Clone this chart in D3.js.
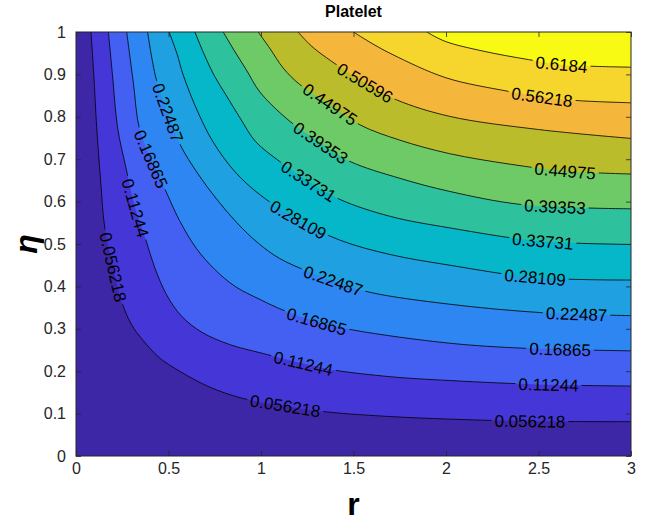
<!DOCTYPE html>
<html>
<head>
<meta charset="utf-8">
<script src="https://cdn.jsdelivr.net/npm/d3@7"></script>
<style>
  body { margin: 0; background: #fff; }
  text { font-family: "Liberation Sans", Arial, Helvetica, sans-serif; }
</style>
</head>
<body>
<div id="chart"></div>
<script>
// ---------------------------------------------------------------
// DATA
// ---------------------------------------------------------------

const levels = [0.056218, 0.11244, 0.16865, 0.22487, 0.28109, 0.33731,
                0.39353, 0.44975, 0.50596, 0.56218, 0.6184];
const levelText = ["0.056218", "0.11244", "0.16865", "0.22487", "0.28109", "0.33731",
                   "0.39353", "0.44975", "0.50596", "0.56218", "0.6184"];

// each contour: [r, eta] points from the top edge to the right edge
const c1 = [[0.081,1],[0.096,0.9],[0.112,0.774],[0.133,0.65],[0.155,0.54],[0.2,0.446],[0.25,0.36],[0.3,0.31],[0.36,0.274],[0.45,0.232],[0.56,0.2],[0.72,0.163],[0.9,0.136],[1.13,0.118],[1.355,0.104],[1.7,0.093],[2.02,0.087],[2.45,0.082],[3,0.081]];
const c2 = [[0.175,1],[0.197,0.9],[0.225,0.774],[0.27,0.68],[0.32,0.585],[0.378,0.509],[0.425,0.445],[0.49,0.38],[0.57,0.33],[0.68,0.292],[0.83,0.263],[1.0,0.243],[1.23,0.218],[1.39,0.203],[1.7,0.187],[2.02,0.178],[2.55,0.168],[3,0.165]];
const c3 = [[0.274,1],[0.31,0.88],[0.342,0.774],[0.405,0.70],[0.48,0.63],[0.56,0.555],[0.65,0.49],[0.75,0.44],[0.86,0.40],[1.0,0.368],[1.12,0.344],[1.30,0.317],[1.5,0.297],[2.02,0.266],[2.43,0.254],[3,0.248]];
const c4 = [[0.387,1],[0.432,0.892],[0.496,0.809],[0.562,0.735],[0.66,0.665],[0.76,0.606],[0.87,0.55],[0.985,0.502],[1.1,0.466],[1.25,0.436],[1.39,0.413],[1.59,0.386],[2.02,0.358],[2.52,0.338],[3,0.331]];
const c5 = [[0.503,1],[0.545,0.95],[0.58,0.898],[0.66,0.81],[0.742,0.74],[0.86,0.67],[0.995,0.616],[1.2,0.557],[1.427,0.509],[1.7,0.475],[2.02,0.45],[2.48,0.421],[3,0.415]];
const c6 = [[0.643,1],[0.69,0.95],[0.75,0.895],[0.81,0.852],[0.89,0.795],[0.97,0.742],[1.10,0.695],[1.256,0.648],[1.427,0.605],[1.7,0.565],[2.02,0.538],[2.5,0.507],[3,0.499]];
const c7 = [[0.796,1],[0.85,0.96],[0.919,0.912],[0.995,0.858],[1.157,0.789],[1.323,0.738],[1.48,0.695],[1.75,0.655],[2.02,0.624],[2.41,0.593],[3,0.583]];
const c8 = [[0.985,1],[1.05,0.96],[1.12,0.915],[1.21,0.876],[1.373,0.829],[1.535,0.781],[1.75,0.745],[2.02,0.713],[2.35,0.688],[2.643,0.672],[3,0.665]];
const c9 = [[1.2,1],[1.27,0.968],[1.355,0.939],[1.562,0.88],[1.733,0.84],[2.02,0.801],[2.5,0.77],[3,0.749]];
const c10 = [[1.5,1],[1.6,0.973],[1.715,0.946],[2.0,0.892],[2.337,0.86],[2.52,0.846],[2.72,0.838],[3,0.833]];
const c11 = [[1.896,1],[1.995,0.978],[2.2,0.955],[2.445,0.935],[2.625,0.923],[2.805,0.919],[3,0.917]];
const contours = [c1, c2, c3, c4, c5, c6, c7, c8, c9, c10, c11];

// where the inline labels sit on each contour
const labelSpots = [
  [[0.2,0.446],[1.13,0.118],[2.454,0.081]],
  [[0.32,0.585],[1.23,0.218],[2.553,0.165]],
  [[0.405,0.70],[1.30,0.317],[2.616,0.25]],
  [[0.496,0.809],[1.39,0.413],[2.706,0.333]],
  [[1.20,0.557],[2.481,0.421]],
  [[1.256,0.648],[2.524,0.505]],
  [[1.323,0.738],[2.589,0.587]],
  [[1.373,0.829],[2.643,0.67]],
  [[1.562,0.88]],
  [[2.52,0.846]],
  [[2.625,0.923]]
];

const xTicks = [0, 0.5, 1, 1.5, 2, 2.5, 3];
const yTicks = [0, 0.1, 0.2, 0.3, 0.4, 0.5, 0.6, 0.7, 0.8, 0.9, 1];

// parula-like band colours, lowest band first
const bandColors = ["#3e27a6", "#4536d8", "#4460f3", "#2d86f2", "#1fa0e0", "#06b7c9",
                    "#2dc19e", "#6eca66", "#babc2c", "#f5b73b", "#f6d62c", "#f9fa13"];

// ---------------------------------------------------------------
// SETUP
// ---------------------------------------------------------------

const width = 651, height = 521;
const plot = { left: 76, right: 631, top: 32, bottom: 456 };

const svg = d3.select("#chart").append("svg")
    .attr("width", width)
    .attr("height", height)
    .style("background", "#fff");

const x = d3.scaleLinear().domain([0, 3]).range([plot.left, plot.right]);
const y = d3.scaleLinear().domain([0, 1]).range([plot.bottom, plot.top]);

const line = d3.line()
    .x(d => x(d[0]))
    .y(d => y(d[1]))
    .curve(d3.curveCatmullRom.alpha(0.5));

const defs = svg.append("defs");
defs.append("clipPath").attr("id", "plotClip")
  .append("rect")
    .attr("x", plot.left).attr("y", plot.top)
    .attr("width", plot.right - plot.left)
    .attr("height", plot.bottom - plot.top);

// ---------------------------------------------------------------
// FILLED BANDS
// ---------------------------------------------------------------

const fills = svg.append("g").attr("clip-path", "url(#plotClip)");

fills.append("rect")
    .attr("x", plot.left).attr("y", plot.top)
    .attr("width", plot.right - plot.left)
    .attr("height", plot.bottom - plot.top)
    .attr("fill", bandColors[0]);

contours.forEach((pts, i) => {
  fills.append("path")
      .attr("d", line(pts) + `L${x(3) + 2},${y(1) - 2}Z`)
      .attr("fill", bandColors[i + 1]);
});

// ---------------------------------------------------------------
// CONTOUR LINES + INLINE LABELS
// ---------------------------------------------------------------

const mask = defs.append("mask").attr("id", "labelGaps")
    .attr("maskUnits", "userSpaceOnUse")
    .attr("x", 0).attr("y", 0).attr("width", width).attr("height", height);
mask.append("rect").attr("width", width).attr("height", height).attr("fill", "#fff");

const lines = svg.append("g")
    .attr("clip-path", "url(#plotClip)")
  .append("g")
    .attr("mask", "url(#labelGaps)");

const labels = svg.append("g");

contours.forEach((pts, i) => {
  const path = lines.append("path")
      .attr("d", line(pts))
      .attr("fill", "none")
      .attr("stroke", "#000")
      .attr("stroke-width", 0.8);

  const node = path.node();
  const total = node.getTotalLength();

  labelSpots[i].forEach(spot => {
    const px = x(spot[0]), py = y(spot[1]);
    // nearest point on the drawn contour
    let best = 0, bestD = Infinity;
    for (let l = 0; l <= total; l += 0.5) {
      const p = node.getPointAtLength(l);
      const d = (p.x - px) ** 2 + (p.y - py) ** 2;
      if (d < bestD) { bestD = d; best = l; }
    }
    const p = node.getPointAtLength(best);
    const a = node.getPointAtLength(Math.max(0, best - 8));
    const b = node.getPointAtLength(Math.min(total, best + 8));
    let angle = Math.atan2(b.y - a.y, b.x - a.x) * 180 / Math.PI;
    if (angle > 90) angle -= 180;
    if (angle < -90) angle += 180;

    const t = labels.append("text")
        .attr("transform", `translate(${p.x},${p.y}) rotate(${angle})`)
        .attr("text-anchor", "middle")
        .attr("dy", "0.35em")
        .style("font-size", "17px")
        .style("fill", "#000")
        .text(levelText[i]);

    const w = t.node().getComputedTextLength() + 6;
    mask.append("rect")
        .attr("x", -w / 2).attr("y", -8)
        .attr("width", w).attr("height", 16)
        .attr("transform", `translate(${p.x},${p.y}) rotate(${angle})`)
        .attr("fill", "#000");
  });
});

// ---------------------------------------------------------------
// AXES
// ---------------------------------------------------------------

const axisColor = "#262626";

function styleAxis(g) {
  g.select(".domain").remove();
  g.selectAll(".tick line").attr("stroke", axisColor).attr("stroke-width", 0.8);
  g.selectAll(".tick text").style("font-size", "16px").style("fill", axisColor);
}

svg.append("g")
    .attr("transform", `translate(0,${plot.bottom})`)
    .call(d3.axisBottom(x).tickValues(xTicks).tickFormat(d => d).tickSize(-5).tickPadding(7))
    .call(styleAxis);

svg.append("g")
    .attr("transform", `translate(0,${plot.top})`)
    .call(d3.axisTop(x).tickValues(xTicks).tickFormat("").tickSize(-5))
    .call(styleAxis);

svg.append("g")
    .attr("transform", `translate(${plot.left},0)`)
    .call(d3.axisLeft(y).tickValues(yTicks).tickFormat(d => d).tickSize(-5).tickPadding(10))
    .call(styleAxis);

svg.append("g")
    .attr("transform", `translate(${plot.right},0)`)
    .call(d3.axisRight(y).tickValues(yTicks).tickFormat("").tickSize(-5))
    .call(styleAxis);

svg.append("rect")
    .attr("x", plot.left).attr("y", plot.top)
    .attr("width", plot.right - plot.left)
    .attr("height", plot.bottom - plot.top)
    .attr("fill", "none")
    .attr("stroke", axisColor)
    .attr("stroke-width", 1);

// ---------------------------------------------------------------
// TITLE + AXIS LABELS
// ---------------------------------------------------------------

svg.append("text")
    .attr("x", (plot.left + plot.right) / 2)
    .attr("y", 17)
    .attr("text-anchor", "middle")
    .style("font-size", "16px")
    .style("font-weight", "bold")
    .text("Platelet");

svg.append("text")
    .attr("x", (plot.left + plot.right) / 2)
    .attr("y", 515)
    .attr("text-anchor", "middle")
    .style("font-size", "32px")
    .style("font-weight", "bold")
    .text("r");

svg.append("text")
    .attr("transform", `translate(37,${(plot.top + plot.bottom) / 2}) rotate(-90)`)
    .attr("text-anchor", "middle")
    .style("font-size", "32px")
    .style("font-weight", "bold")
    .style("font-style", "italic")
    .text("η");

</script>
</body>
</html>
